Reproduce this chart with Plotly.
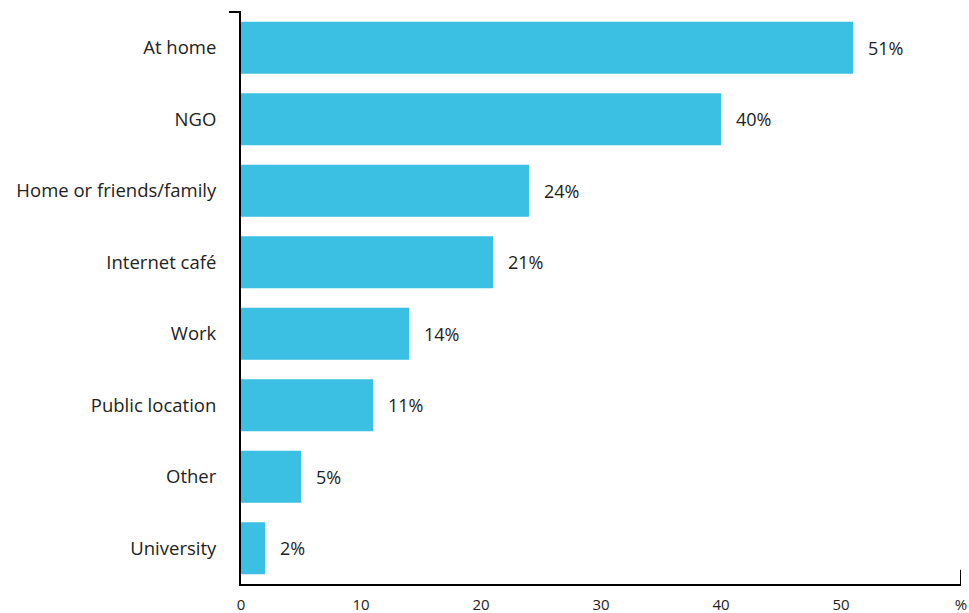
import plotly.graph_objects as go

# Where respondents access the internet (% of respondents)
categories = ["At home", "NGO", "Home or friends/family", "Internet café",
              "Work", "Public location", "Other", "University"]
values = [51, 40, 24, 21, 14, 11, 5, 2]
x_tick_vals = [0, 10, 20, 30, 40, 50, 60]
x_tick_text = ["0", "10", "20", "30", "40", "50", "%"]

BAR_COLOR = "#3bbfe3"
TEXT_COLOR = "#222222"
FONT = "'Open Sans', Lato, sans-serif"

fig = go.Figure(
    go.Bar(
        x=values,
        y=categories,
        orientation="h",
        marker=dict(color=BAR_COLOR, line=dict(width=0)),
        width=0.73,
        hoverinfo="skip",
    )
)

# Value labels to the right of each bar
for cat, v in zip(categories, values):
    fig.add_annotation(
        x=v, y=cat, text=f"{v}%", showarrow=False,
        xanchor="left", xshift=13,
        font=dict(family=FONT, size=18, color=TEXT_COLOR),
    )

# Small end caps on the axes
fig.add_shape(type="line", xref="paper", yref="paper",
              x0=-0.0167, x1=0, y0=1, y1=1,
              line=dict(color="black", width=2))
fig.add_shape(type="line", xref="x", yref="paper",
              x0=60, x1=60, y0=0, y1=0.025,
              line=dict(color="black", width=2))

fig.update_layout(
    width=969, height=613,
    margin=dict(l=241, r=8, t=12, b=29, autoexpand=False),
    plot_bgcolor="white", paper_bgcolor="white",
    bargap=0.27,
    showlegend=False,
    font=dict(family=FONT, color=TEXT_COLOR),
    xaxis=dict(
        range=[0, 60], tickvals=x_tick_vals, ticktext=x_tick_text,
        showgrid=False, zeroline=False, automargin=False,
        showline=True, linecolor="black", linewidth=2,
        ticks="", ticklabelstandoff=6,
        tickfont=dict(size=15, color=TEXT_COLOR),
    ),
    yaxis=dict(
        categoryorder="array", categoryarray=categories, autorange="reversed",
        showgrid=False, zeroline=False, automargin=False,
        showline=True, linecolor="black", linewidth=2,
        ticks="", ticklabelstandoff=19,
        tickfont=dict(size=18.5, color=TEXT_COLOR),
    ),
)

fig.write_html("out.html")
